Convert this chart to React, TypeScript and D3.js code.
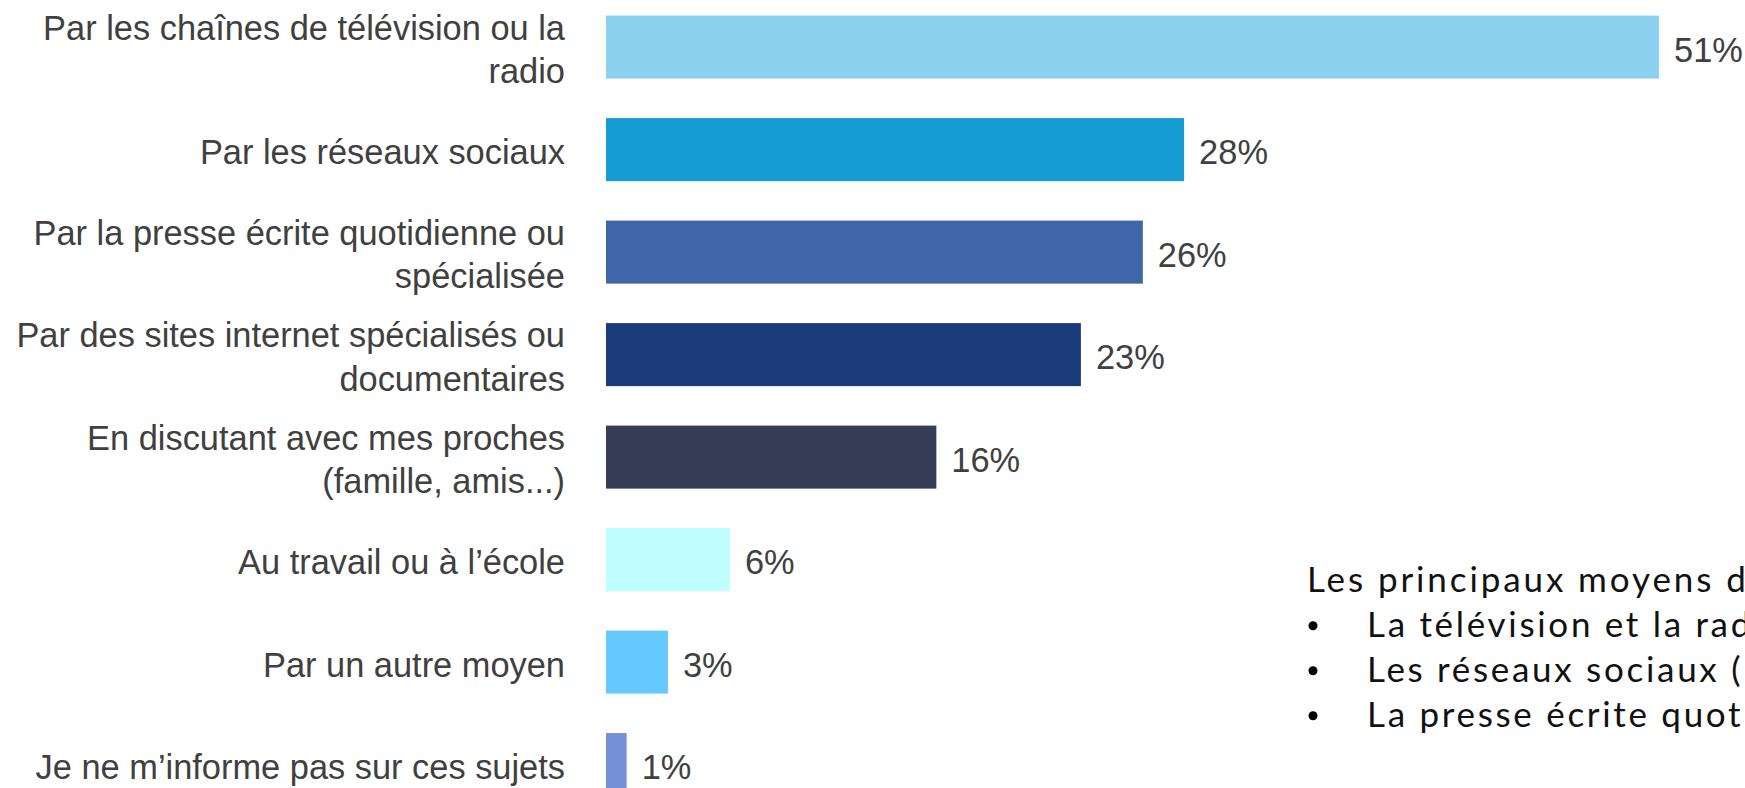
import React from "react";
import * as d3 from "d3";

const categories = [
  "Par les chaînes de télévision ou la\nradio",
  "Par les réseaux sociaux",
  "Par la presse écrite quotidienne ou\nspécialisée",
  "Par des sites internet spécialisés ou\ndocumentaires",
  "En discutant avec mes proches\n(famille, amis...)",
  "Au travail ou à l’école",
  "Par un autre moyen",
  "Je ne m’informe pas sur ces sujets",
];
const values = [51, 28, 26, 23, 16, 6, 3, 1];
const colors = ["#8DD1F0", "#179BD3", "#4066AA", "#1A3A7A", "#363D56", "#BEFEFE", "#63C9FF", "#7390D8"];

const noteTitle = "Les principaux moyens d";
const noteBullets = ["La télévision et la rad", "Les réseaux sociaux (", "La presse écrite quot"];

const W = 1745;
const H = 788;

export default function App() {
  const x = d3.scaleLinear().domain([0, 51]).range([606, 1659]);
  const y = d3
    .scaleBand<string>()
    .domain(categories)
    .range([15.6, 796.1])
    .paddingInner(0.385)
    .paddingOuter(0);
  const bw = y.bandwidth();
  const fs = 34.4;
  const lineGap = 43.5;
  const labelFont = "'Liberation Sans', Arial, sans-serif";
  const noteFont = "Lato, 'Open Sans', sans-serif";
  const noteFs = 35;

  return (
    <div style={{ position: "absolute", left: 0, top: 0, width: W, height: H, overflow: "hidden", background: "#fff" }}>
      <svg width={W} height={H} style={{ display: "block" }}>
        <rect width={W} height={H} fill="#ffffff" />
        {categories.map((c, i) => {
          const cy = (y(c) as number) + bw / 2;
          const lines = c.split("\n");
          const n = lines.length;
          return (
            <g key={c}>
              <rect x={x(0)} y={y(c)} width={x(values[i]) - x(0)} height={bw} fill={colors[i]} />
              {lines.map((ln, j) => (
                <text
                  key={j}
                  x={565}
                  y={cy + 14.5 + (j - (n - 1) / 2) * lineGap}
                  textAnchor="end"
                  fontFamily={labelFont}
                  fontSize={fs}
                  fill="#404040"
                >
                  {ln}
                </text>
              ))}
              <text
                x={x(values[i]) + 15}
                y={cy + 14.5}
                fontFamily={labelFont}
                fontSize={fs}
                fill="#404040"
              >
                {values[i]}%
              </text>
            </g>
          );
        })}
        <text x={1307} y={591.7} fontFamily={noteFont} fontSize={noteFs} fill="#111" letterSpacing={2.9}>
          {noteTitle}
        </text>
        {noteBullets.map((b, i) => (
          <g key={b}>
            <circle cx={1313} cy={591.7 + (i + 1) * 45 - 11} r={4.5} fill="#000" />
            <text
              x={1367}
              y={591.7 + (i + 1) * 45}
              fontFamily={noteFont}
              fontSize={noteFs}
              fill="#111"
              letterSpacing={2.7}
            >
              {b}
            </text>
          </g>
        ))}
      </svg>
    </div>
  );
}
